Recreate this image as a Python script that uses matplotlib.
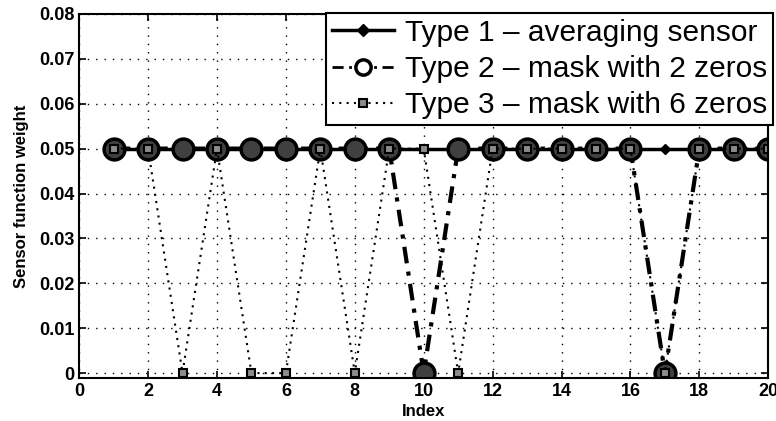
import numpy as np
import matplotlib
matplotlib.use('Agg')
import matplotlib.pyplot as plt

plt.rcParams['font.family'] = ['Liberation Sans', 'DejaVu Sans']

# data
index = np.arange(1, 21)
type1 = [0.05] * 20
type2 = [0.05, 0.05, 0.05, 0.05, 0.05, 0.05, 0.05, 0.05, 0.05, 0.0,
         0.05, 0.05, 0.05, 0.05, 0.05, 0.05, 0.0, 0.05, 0.05, 0.05]
type3 = [0.05, 0.05, 0.0, 0.05, 0.0, 0.0, 0.05, 0.0, 0.05, 0.05,
         0.0, 0.05, 0.05, 0.05, 0.05, 0.05, 0.0, 0.05, 0.05, 0.05]
labels = ['Type 1 \u2013 averaging sensor',
          'Type 2 \u2013 mask with 2 zeros',
          'Type 3 \u2013 mask with 6 zeros']
xticks = np.arange(0, 21, 2)
yticks = [0, 0.01, 0.02, 0.03, 0.04, 0.05, 0.06, 0.07, 0.08]
ytick_labels = ['0', '0.01', '0.02', '0.03', '0.04', '0.05', '0.06', '0.07', '0.08']

fig = plt.figure(figsize=(7.76, 4.21), dpi=100)
ax = fig.add_axes([0.102, 0.102, 0.888, 0.865])

ax.plot(index, type1, '-', color='black', lw=2.5, marker='D', ms=5,
        mfc='black', mec='black', label=labels[0])
ax.plot(index, type2, color='black', lw=3, ls=(0, (4, 2, 1, 2)),
        marker='o', ms=15, mfc='0.25', mec='black', mew=2.5, label=labels[1])
ax.plot(index, type3, color='black', lw=1.5, ls=(0, (1, 2.5)),
        marker='s', ms=6, mfc='0.55', mec='black', mew=1.5, label=labels[2])

ax.set_xlim(0, 20)
ax.set_ylim(-0.0011, 0.08)
ax.set_xticks(xticks)
ax.set_yticks(yticks)
ax.set_yticklabels(ytick_labels)
ax.tick_params(direction='in', length=5, width=1.2, top=True, right=True,
               labelsize=13)
for lab in ax.get_xticklabels() + ax.get_yticklabels():
    lab.set_fontweight('bold')
for s in ax.spines.values():
    s.set_linewidth(1.5)
ax.grid(True, linestyle=(0, (1, 5)), color='black', lw=1)

ax.set_xlabel('Index', fontsize=12, fontweight='bold', labelpad=3)
ax.set_ylabel('Sensor function weight', fontsize=12, fontweight='bold', labelpad=7)

leg = ax.legend(loc='upper right', bbox_to_anchor=(0.996, 0.97),
                bbox_transform=fig.transFigure, fontsize=21.5, frameon=True,
                fancybox=False, edgecolor='black', framealpha=1,
                borderpad=0.2, labelspacing=0.28, handlelength=2.1,
                handletextpad=0.35, borderaxespad=0)
leg.get_frame().set_linewidth(1.5)
leg.legend_handles[1].set_markerfacecolor('white')
leg.legend_handles[1].set_markersize(11)
leg.legend_handles[1].set_linewidth(2)
leg.legend_handles[0].set_markersize(6)

fig.savefig('out.png', dpi=100)
